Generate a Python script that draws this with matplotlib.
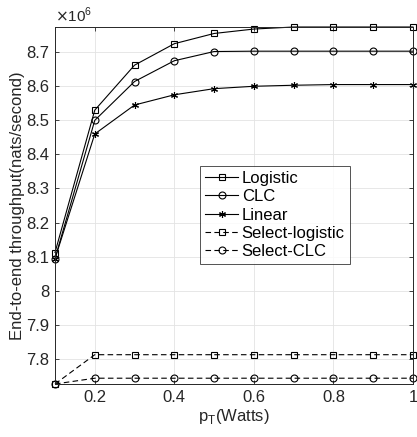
import numpy as np
import matplotlib
matplotlib.use('Agg')
import matplotlib.pyplot as plt

p_t = [0.1, 0.2, 0.3, 0.4, 0.5, 0.6, 0.7, 0.8, 0.9, 1.0]

logistic = [8.112, 8.530, 8.662, 8.725, 8.755, 8.768, 8.774, 8.774, 8.774, 8.774]
clc = [8.094, 8.500, 8.614, 8.675, 8.702, 8.703, 8.703, 8.703, 8.703, 8.703]
linear = [8.094, 8.460, 8.545, 8.575, 8.593, 8.600, 8.603, 8.605, 8.605, 8.605]
select_logistic = [7.726, 7.812, 7.812, 7.812, 7.812, 7.812, 7.812, 7.812, 7.812, 7.812]
select_clc = [7.726, 7.743, 7.743, 7.743, 7.743, 7.743, 7.743, 7.743, 7.743, 7.743]

plt.rcParams['font.family'] = ['Liberation Sans', 'DejaVu Sans']

fig = plt.figure(figsize=(4.17, 4.37), dpi=100)
ax = fig.add_axes([55 / 417, 1 - 384 / 437, 358 / 417, 357 / 437])

style = dict(color='black', linewidth=0.8, markersize=5, markerfacecolor='none',
             markeredgewidth=0.8, clip_on=False)
asterisk = (6, 2, 0)
ax.plot(p_t, logistic, 's-', label='Logistic', **style)
ax.plot(p_t, clc, 'o-', label='CLC', **style)
ax.plot(p_t, linear, '-', marker=asterisk, label='Linear', **style)
ax.plot(p_t, select_logistic, 's--', label='Select-logistic', dashes=(5, 3), **style)
ax.plot(p_t, select_clc, 'o--', label='Select-CLC', dashes=(5, 3), **style)

ax.set_xlim(0.1, 1.0)
ax.set_ylim(7.726, 8.774)
ax.set_xticks([0.2, 0.4, 0.6, 0.8, 1.0])
ax.set_xticklabels(['0.2', '0.4', '0.6', '0.8', '1'])
ax.set_yticks([7.8, 7.9, 8.0, 8.1, 8.2, 8.3, 8.4, 8.5, 8.6, 8.7])
ax.set_yticklabels(['7.8', '7.9', '8', '8.1', '8.2', '8.3', '8.4', '8.5', '8.6', '8.7'])
ax.tick_params(direction='in', length=3, width=0.6, labelsize=12, colors='#262626',
               top=True, right=True, pad=4)
ax.grid(True, color='#e3e3e3', linewidth=0.6)
for s in ax.spines.values():
    s.set_linewidth(0.7)
    s.set_color('#262626')

ax.set_xlabel(r'p$_\mathregular{T}$(Watts)', fontsize=12, color='#262626', labelpad=2)
ax.set_ylabel('End-to-end throughput(nats/second)', fontsize=12, color='#262626', labelpad=1)
ax.text(0.0, 1.005, r'$\times$10$^\mathregular{6}$', transform=ax.transAxes,
        fontsize=11, color='#262626', va='bottom', ha='left')

leg = ax.legend(loc='upper left', bbox_to_anchor=(145 / 358, (384 - 166) / 357),
                fontsize=12, frameon=True, fancybox=False, edgecolor='#262626',
                handlelength=2.0, handletextpad=0.2, borderpad=0.3, labelspacing=0.2,
                borderaxespad=0)
leg.get_frame().set_linewidth(0.7)

fig.savefig('out.png', dpi=100)
